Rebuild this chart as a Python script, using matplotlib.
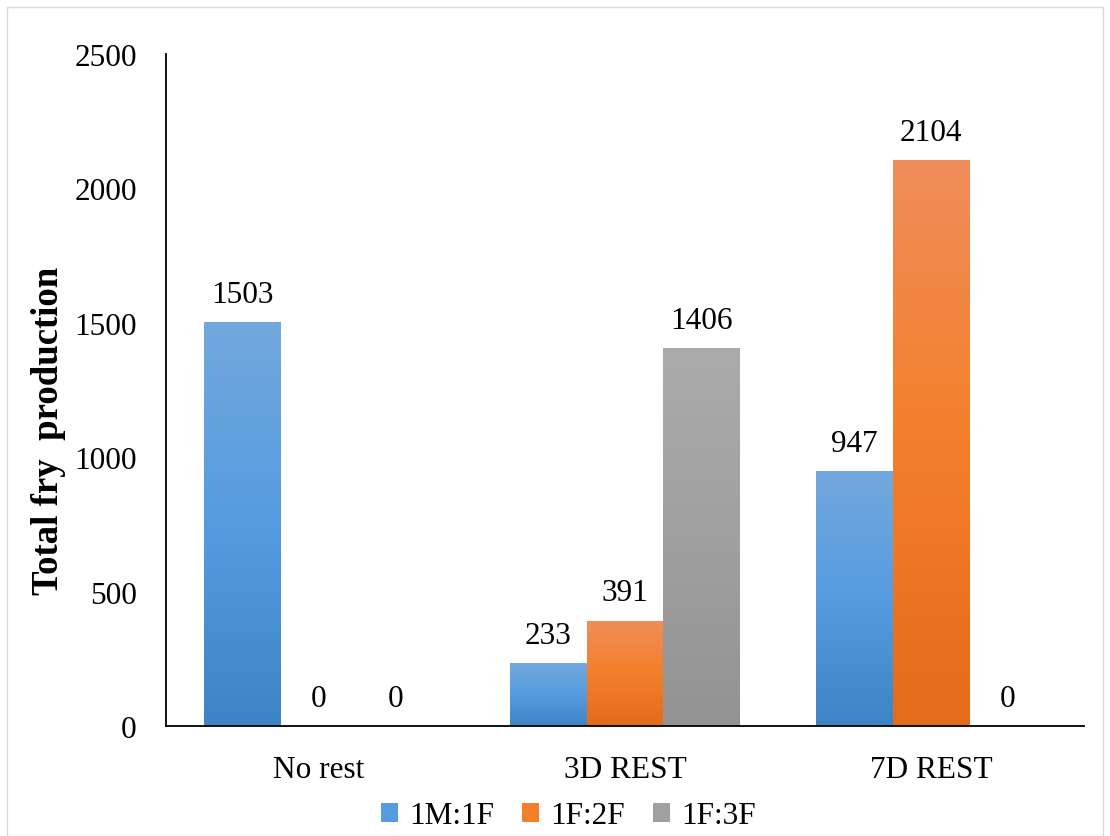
import numpy as np
import matplotlib.pyplot as plt
from matplotlib.colors import LinearSegmentedColormap
from matplotlib.patches import Rectangle

plt.rcParams['font.family'] = ['Liberation Serif', 'DejaVu Serif']

categories = ['No rest', '3D REST', '7D REST']
series = ['1M:1F', '1F:2F', '1F:3F']
values = {
    '1M:1F': [1503, 233, 947],
    '1F:2F': [0, 391, 2104],
    '1F:3F': [0, 1406, 0],
}
# top, middle, bottom shades of each series
shades = {
    '1M:1F': ['#73a8dd', '#559ce0', '#3d84c6'],
    '1F:2F': ['#f08d5b', '#f47f2a', '#e36b19'],
    '1F:3F': ['#ababab', '#a0a0a0', '#939393'],
}

fig = plt.figure(figsize=(11.1, 8.37), dpi=100)
ax = fig.add_axes([166 / 1110, 110 / 837, 918 / 1110, 672 / 837])

width = 0.25
x = np.arange(len(categories))
for i, s in enumerate(series):
    cmap = LinearSegmentedColormap.from_list(s, shades[s][::-1])
    grad = np.linspace(0, 1, 256).reshape(-1, 1)
    for xi, v in zip(x, values[s]):
        left = xi + (i - 1) * width - width / 2
        if v > 0:
            im = ax.imshow(grad, cmap=cmap, origin='lower', aspect='auto',
                           extent=[left, left + width, 0, v], zorder=2)
            clip = Rectangle((left, 0), width, v, transform=ax.transData,
                             facecolor='none', edgecolor='none')
            ax.add_patch(clip)
            im.set_clip_path(clip)
        ax.text(left + width / 2, v + 50, str(v), ha='center', va='bottom',
                fontsize=22.5)

ax.set_xlim(-0.5, 2.5)
ax.set_ylim(0, 2500)
ax.set_yticks(range(0, 2501, 500))
ax.set_xticks(x)
ax.set_xticklabels(categories)
ax.tick_params(axis='both', length=0, labelsize=22.5)
ax.tick_params(axis='y', pad=21)
ax.tick_params(axis='x', pad=21)
for side in ['top', 'right']:
    ax.spines[side].set_visible(False)
ax.spines['left'].set_linewidth(1.3)
ax.spines['bottom'].set_linewidth(1.3)
ax.set_ylabel('Total fry  production', fontsize=26.5, fontweight='bold',
              va='center')
ax.yaxis.set_label_coords(-0.1285, 0.44)

handles = [Rectangle((0, 0), 1, 1, facecolor=shades[s][1]) for s in series]
fig.legend(handles, series, loc='lower center', ncol=3, frameon=False,
           fontsize=22.5, bbox_to_anchor=(0.512, -0.027), handlelength=0.55,
           handleheight=0.55, handletextpad=0.35, columnspacing=0.9)

fig.add_artist(Rectangle((7 / 1110, 0.5 / 837), 1096 / 1110, 829 / 837,
                         transform=fig.transFigure, facecolor='none',
                         edgecolor='#d9d9d9', linewidth=1))

fig.savefig('out.png', dpi=100)
